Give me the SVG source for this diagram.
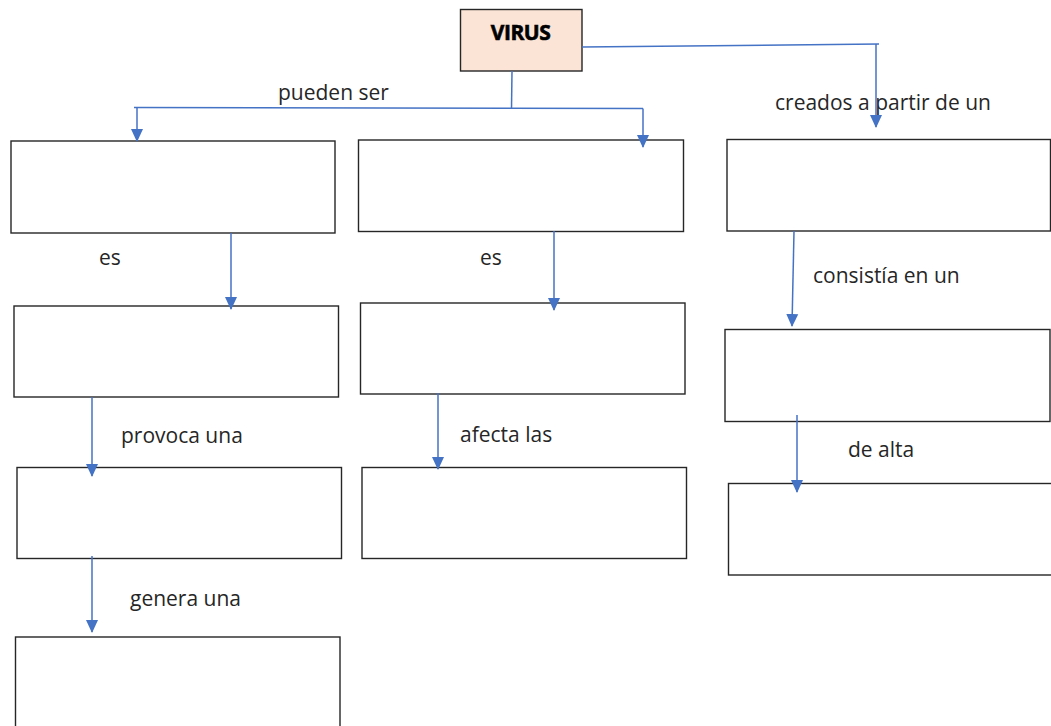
<svg xmlns="http://www.w3.org/2000/svg" width="1051" height="726" viewBox="0 0 1051 726">
<style>
.box{fill:#ffffff;stroke:#262626;stroke-width:1.4}
.root{fill:#fbe4d6;stroke:#262626;stroke-width:1.4}
.ln{fill:none;stroke:#4472c4;stroke-width:1.5}
.lbl{font-family:"Open Sans","Liberation Sans",sans-serif;font-size:21px;fill:#262626}
.title{font-family:"Open Sans","Liberation Sans",sans-serif;font-size:21px;font-weight:bold;fill:#000;letter-spacing:-0.5px;stroke:#000;stroke-width:0.6}
</style>
<defs>
<marker id="ah" markerUnits="userSpaceOnUse" markerWidth="13" markerHeight="13" viewBox="0 0 13 13" refX="12" refY="6.5" orient="auto">
<path d="M0,0.5 L13,6.5 L0,12.5 Z" fill="#4472c4"/>
</marker>
</defs>
<rect width="1051" height="726" fill="#ffffff"/>
<g id="virus"><rect class="root" x="460.5" y="9.5" width="121.5" height="61.5"/><text class="title" x="520.5" y="40" text-anchor="middle">VIRUS</text></g>
<g id="box-a"><rect class="box" x="11" y="141" width="324" height="92"/></g>
<g id="box-b"><rect class="box" x="14" y="306" width="324.5" height="91"/></g>
<g id="box-c"><rect class="box" x="17" y="467.5" width="324.5" height="91"/></g>
<g id="box-d"><rect class="box" x="15.5" y="637" width="324.5" height="100"/></g>
<g id="box-e"><rect class="box" x="358.5" y="140" width="325" height="91.5"/></g>
<g id="box-f"><rect class="box" x="360.5" y="303" width="324.5" height="91"/></g>
<g id="box-g"><rect class="box" x="362" y="467.5" width="324.5" height="91"/></g>
<g id="box-h"><rect class="box" x="727" y="139.5" width="323.5" height="91.5"/></g>
<g id="box-i"><rect class="box" x="725" y="329.5" width="325" height="92"/></g>
<g id="box-j"><rect class="box" x="728.5" y="483.5" width="330" height="91.5"/></g>
<g id="labels">
<text class="lbl" x="278" y="100">pueden ser</text>
<text class="lbl" x="775" y="110">creados a partir de un</text>
<text class="lbl" x="99" y="265">es</text>
<text class="lbl" x="480" y="265">es</text>
<text class="lbl" x="121" y="443">provoca una</text>
<text class="lbl" x="460" y="442">afecta las</text>
<text class="lbl" x="130" y="606">genera una</text>
<text class="lbl" x="813" y="283">consistía en un</text>
<text class="lbl" x="848" y="457">de alta</text>
</g>
<g id="connectors">
<path class="ln" d="M512,71 L511.5,109"/>
<path class="ln" d="M134,107.5 L643,108.5"/>
<path class="ln" d="M137,107.5 L137,141" marker-end="url(#ah)"/>
<path class="ln" d="M643,108.5 L643,147" marker-end="url(#ah)"/>
<path class="ln" d="M582,47 L879,44"/>
<path class="ln" d="M876,44 L876,127" marker-end="url(#ah)"/>
<path class="ln" d="M231,233 L231,309" marker-end="url(#ah)"/>
<path class="ln" d="M92,397 L92,476" marker-end="url(#ah)"/>
<path class="ln" d="M92,556 L92,632" marker-end="url(#ah)"/>
<path class="ln" d="M554,231 L554,310" marker-end="url(#ah)"/>
<path class="ln" d="M438,393 L438,469" marker-end="url(#ah)"/>
<path class="ln" d="M794,231 L792,326" marker-end="url(#ah)"/>
<path class="ln" d="M797,415 L797,492" marker-end="url(#ah)"/>
</g>
</svg>
